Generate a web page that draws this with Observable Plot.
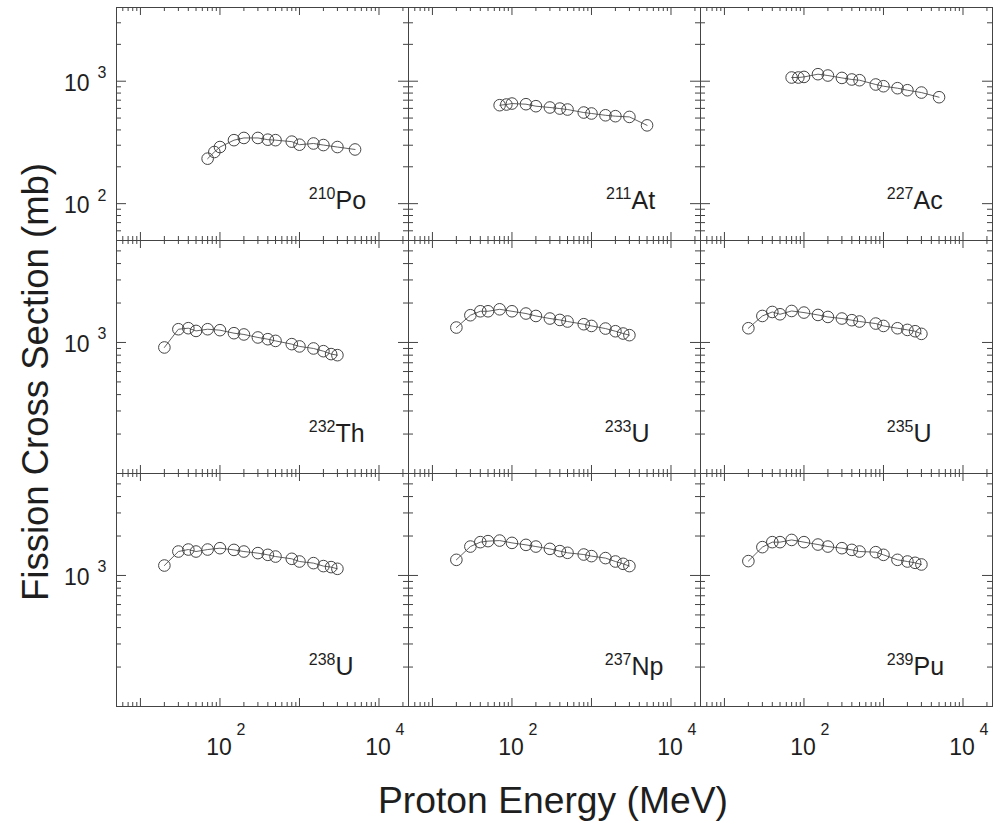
<!DOCTYPE html>
<html>
<head>
<meta charset="utf-8">
<script src="https://cdn.jsdelivr.net/npm/d3@7"></script>
<script src="https://cdn.jsdelivr.net/npm/@observablehq/plot@0.6"></script>
<style>
  body { margin: 0; background: #fff; }
  #figure {
    position: relative; width: 1002px; height: 822px; overflow: hidden; background: #fff;
    font-family: "Liberation Sans", Arial, Helvetica, sans-serif;
  }
  #figure svg { position: absolute; overflow: visible; }
</style>
</head>
<body>
<div id="figure"></div>
<script>
// Proton energies (MeV) of the measurements
const energyPreActinide = [70, 85, 100, 150, 200, 300, 400, 500, 800, 1000, 1500, 2000, 3000, 5000];
const energyActinide = [20, 30, 40, 50, 70, 100, 150, 200, 300, 400, 500, 800, 1000, 1500, 2000, 2500, 3000];

// Fission cross sections (mb)
const sigmaPo210 = [233, 264, 290, 330, 344, 344, 333, 330, 321, 303, 310, 301, 290, 277];
const sigmaAt211 = [637, 645, 657, 649, 625, 610, 598, 587, 555, 545, 527, 518, 511, 436];
const sigmaAc227 = [1072, 1072, 1084, 1141, 1113, 1064, 1033, 1019, 940, 910, 877, 844, 808, 740];
const sigmaTh232 = [916, 1262, 1285, 1225, 1262, 1241, 1177, 1151, 1092, 1059, 1028, 971, 933, 900, 858, 815, 800];
const sigmaU233 = [1300, 1614, 1730, 1730, 1791, 1730, 1663, 1593, 1523, 1486, 1445, 1378, 1337, 1277, 1218, 1170, 1137];
const sigmaU235 = [1284, 1593, 1709, 1641, 1739, 1691, 1622, 1566, 1523, 1479, 1445, 1394, 1337, 1284, 1247, 1218, 1163];
const sigmaU238 = [1191, 1523, 1577, 1523, 1577, 1615, 1567, 1523, 1481, 1437, 1394, 1340, 1278, 1242, 1179, 1158, 1124];
const sigmaNp237 = [1316, 1662, 1796, 1828, 1846, 1773, 1712, 1662, 1596, 1534, 1489, 1445, 1405, 1357, 1278, 1227, 1179];
const sigmaPu239 = [1287, 1645, 1796, 1796, 1867, 1796, 1722, 1662, 1615, 1568, 1523, 1506, 1437, 1316, 1278, 1249, 1213];

// Panel labels, in reading order
const massNumbers = ["210", "211", "227", "232", "233", "235", "238", "237", "239"];
const elementSymbols = ["Po", "At", "Ac", "Th", "U", "U", "U", "Np", "Pu"];
const panelEnergies = [energyPreActinide, energyPreActinide, energyPreActinide,
  energyActinide, energyActinide, energyActinide, energyActinide, energyActinide, energyActinide];
const panelSigmas = [sigmaPo210, sigmaAt211, sigmaAc227, sigmaTh232, sigmaU233, sigmaU235, sigmaU238, sigmaNp237, sigmaPu239];

// Axis extents and labelled decades
const energyDomain = [5, 23500];
const sigmaDomainTop = [50, 4000];
const sigmaDomainActinide = [100, 6000];
const energyTickLabels = [100, 10000];
const sigmaTickLabelsTop = [1000, 100];
const sigmaTickLabelsActinide = [1000];

// Layout
const colLeft = [116, 408, 700];
const rowTop = [7, 240, 473];
const W = 292, H = 233;
const labelJunction = [219, 223, 213];
const ink = "#444";
const textInk = "#1e1e1e";
const font = "Liberation Sans, Arial, Helvetica, sans-serif";

function logTicks([lo, hi]) {
  const major = [], minor = [];
  for (let k = Math.floor(Math.log10(lo)); k <= Math.ceil(Math.log10(hi)); ++k) {
    for (let m = 1; m <= 9; ++m) {
      const v = m * Math.pow(10, k);
      if (v > lo * 1.0001 && v < hi / 1.0001) (m === 1 ? major : minor).push(v);
    }
  }
  return {major, minor};
}

const figure = document.getElementById("figure");

for (let i = 0; i < 9; ++i) {
  const col = i % 3, row = Math.floor(i / 3);
  const yDomain = row === 0 ? sigmaDomainTop : sigmaDomainActinide;
  const data = panelEnergies[i].map((e, j) => ({energy: e, sigma: panelSigmas[i][j]}));
  const xt = logTicks(energyDomain), yt = logTicks(yDomain);
  const tickStyle = {stroke: ink, strokeWidth: 1};

  const marks = [
    // inward ticks on all four sides
    Plot.tickX(xt.major, {x: d => d, insetTop: H - 8, ...tickStyle}),
    Plot.tickX(xt.minor, {x: d => d, insetTop: H - 4, ...tickStyle}),
    Plot.tickX(xt.major, {x: d => d, insetBottom: H - 8, ...tickStyle}),
    Plot.tickX(xt.minor, {x: d => d, insetBottom: H - 4, ...tickStyle}),
    Plot.tickY(yt.major, {y: d => d, insetRight: W - 10, ...tickStyle}),
    Plot.tickY(yt.minor, {y: d => d, insetRight: W - 5, ...tickStyle}),
    Plot.tickY(yt.major, {y: d => d, insetLeft: W - 10, ...tickStyle}),
    Plot.tickY(yt.minor, {y: d => d, insetLeft: W - 5, ...tickStyle}),
    Plot.frame({stroke: ink, strokeWidth: 1}),
    // measured cross sections
    Plot.line(data, {x: "energy", y: "sigma", stroke: "#444", strokeWidth: 0.85}),
    Plot.dot(data, {x: "energy", y: "sigma", r: 5.8, stroke: "#444", strokeWidth: 1, fill: "none"}),
    // nuclide label: superscript mass number + element symbol
    Plot.text([massNumbers[i]], {text: d => d, frameAnchor: "bottom-left", dx: labelJunction[col], dy: -41.5,
      textAnchor: "end", lineAnchor: "bottom", fontSize: 16, fontFamily: font, fill: textInk}),
    Plot.text([elementSymbols[i]], {text: d => d, frameAnchor: "bottom-left", dx: labelJunction[col], dy: -31.5,
      textAnchor: "start", lineAnchor: "bottom", fontSize: 25, fontFamily: font, fill: textInk})
  ];

  if (col === 0) {
    const labels = row === 0 ? sigmaTickLabelsTop : sigmaTickLabelsActinide;
    marks.push(
      Plot.text(labels, {y: d => d, text: () => "10", frameAnchor: "left", dx: -27, dy: 9.5,
        textAnchor: "end", lineAnchor: "bottom", fontSize: 23, fontFamily: font, fill: textInk}),
      Plot.text(labels, {y: d => d, text: d => String(Math.round(Math.log10(d))), frameAnchor: "left", dx: -19, dy: -3,
        textAnchor: "start", lineAnchor: "bottom", fontSize: 16, fontFamily: font, fill: textInk})
    );
  }
  if (row === 2) {
    marks.push(
      Plot.text(energyTickLabels, {x: d => d, text: () => "10", frameAnchor: "bottom", dx: -1, dy: 48,
        textAnchor: "middle", lineAnchor: "bottom", fontSize: 23, fontFamily: font, fill: textInk}),
      Plot.text(energyTickLabels, {x: d => d, text: d => String(Math.round(Math.log10(d))), frameAnchor: "bottom", dx: 16.5, dy: 28,
        textAnchor: "start", lineAnchor: "bottom", fontSize: 16, fontFamily: font, fill: textInk})
    );
  }

  const svg = Plot.plot({
    width: W,
    height: H,
    margin: 0,
    x: {type: "log", domain: energyDomain, axis: null},
    y: {type: "log", domain: yDomain, axis: null},
    style: {background: "transparent", overflow: "visible"},
    marks
  });
  svg.style.left = colLeft[col] + "px";
  svg.style.top = rowTop[row] + "px";
  figure.appendChild(svg);
}

// Shared axis titles
const titles = d3.select(figure).append("svg")
  .attr("width", 1002).attr("height", 822)
  .style("left", "0px").style("top", "0px")
  .style("pointer-events", "none");
titles.append("text")
  .attr("x", 553).attr("y", 813)
  .attr("text-anchor", "middle")
  .attr("font-family", font).attr("font-size", 37).attr("fill", textInk)
  .attr("textLength", 350).attr("lengthAdjust", "spacingAndGlyphs")
  .text("Proton Energy (MeV)");
titles.append("text")
  .attr("transform", "translate(48,382) rotate(-90)")
  .attr("text-anchor", "middle")
  .attr("font-family", font).attr("font-size", 37).attr("fill", textInk)
  .attr("textLength", 438).attr("lengthAdjust", "spacingAndGlyphs")
  .text("Fission Cross Section (mb)");
</script>
</body>
</html>
